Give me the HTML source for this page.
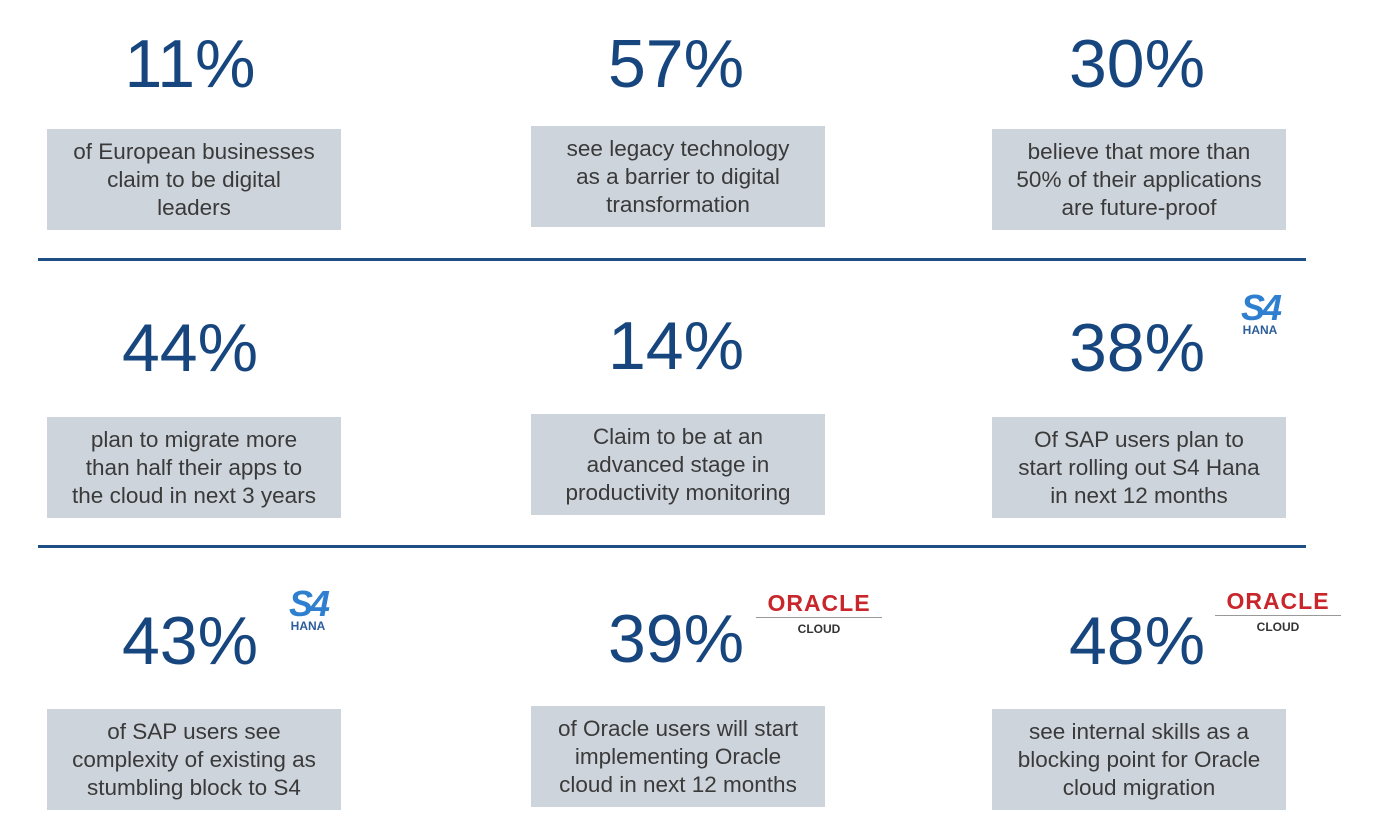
<!DOCTYPE html>
<html><head><meta charset="utf-8"><style>
body{margin:0;width:1383px;height:816px;background:#fff;position:relative;overflow:hidden;font-family:"Liberation Sans",sans-serif}
.p{position:absolute;font-size:68px;color:#17467f;text-align:center;width:300px;line-height:66px}
.b{position:absolute;width:294px;height:101px;background:#cdd4dc;color:#3a3a3a;font-size:22.5px;line-height:28px;text-align:center;display:flex;align-items:center;justify-content:center}
.l{position:absolute;left:38px;width:1268px;height:3px;background:#1f4e85}
.s4{position:absolute;text-align:center;color:#2f7fd0;font-weight:bold;font-style:italic}
.s4 .a{font-size:36px;line-height:32px;letter-spacing:-3px}
.s4 .h{font-size:12px;font-style:normal;color:#2c5e9c;line-height:12px}
.or{position:absolute;width:134px;text-align:center}
.or .a{color:#c8262b;font-size:23px;font-weight:bold;line-height:22px;letter-spacing:1px}
.or .r{height:1px;background:#999;margin:3px 4px 4px}
.or .c{font-size:12px;font-weight:bold;color:#333}
</style></head><body>
<div class="p" style="left:40px;top:31px">11%</div>
<div class="p" style="left:526px;top:31px">57%</div>
<div class="p" style="left:987px;top:31px">30%</div>
<div class="b" style="left:47px;top:129px">of European businesses<br>claim to be digital<br>leaders</div>
<div class="b" style="left:531px;top:126px">see legacy technology<br>as a barrier to digital<br>transformation</div>
<div class="b" style="left:992px;top:129px">believe that more than<br>50% of their applications<br>are future-proof</div>
<div class="l" style="top:258px"></div>
<div class="p" style="left:40px;top:315px">44%</div>
<div class="p" style="left:526px;top:313px">14%</div>
<div class="p" style="left:987px;top:315px">38%</div>
<div class="s4" style="left:1230px;top:292px;width:60px"><div class="a">S4</div><div class="h">HANA</div></div>
<div class="b" style="left:47px;top:417px">plan to migrate more<br>than half their apps to<br>the cloud in next 3 years</div>
<div class="b" style="left:531px;top:414px">Claim to be at an<br>advanced stage in<br>productivity monitoring</div>
<div class="b" style="left:992px;top:417px">Of SAP users plan to<br>start rolling out S4 Hana<br>in next 12 months</div>
<div class="l" style="top:545px"></div>
<div class="p" style="left:40px;top:608px">43%</div>
<div class="p" style="left:526px;top:606px">39%</div>
<div class="p" style="left:987px;top:608px">48%</div>
<div class="s4" style="left:278px;top:588px;width:60px"><div class="a">S4</div><div class="h">HANA</div></div>
<div class="or" style="left:752px;top:592px"><div class="a">ORACLE</div><div class="r"></div><div class="c">CLOUD</div></div>
<div class="or" style="left:1211px;top:590px"><div class="a">ORACLE</div><div class="r"></div><div class="c">CLOUD</div></div>
<div class="b" style="left:47px;top:709px">of SAP users see<br>complexity of existing as<br>stumbling block to S4</div>
<div class="b" style="left:531px;top:706px">of Oracle users will start<br>implementing Oracle<br>cloud in next 12 months</div>
<div class="b" style="left:992px;top:709px">see internal skills as a<br>blocking point for Oracle<br>cloud migration</div>
</body></html>
